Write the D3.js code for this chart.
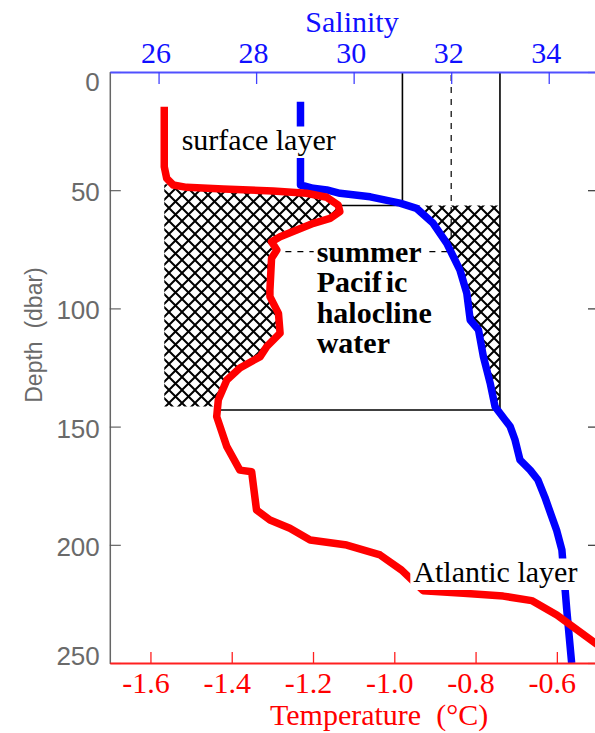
<!DOCTYPE html>
<html>
<head>
<meta charset="utf-8">
<title>Temperature and salinity profile</title>
<script src="https://cdn.jsdelivr.net/npm/d3@7/dist/d3.min.js"></script>
<style>
  html, body { margin: 0; padding: 0; background: #fff; }
  svg { display: block; }
  .serif { font-family: "Liberation Serif", "Times New Roman", Times, serif; }
  .sans { font-family: "Liberation Sans", Arial, Helvetica, sans-serif; }
</style>
</head>
<body>
<svg id="chart" width="595" height="733"></svg>
<script>
// Temperature profile: pressure (dbar) and temperature (°C)
const temperatureDepth = [14.7, 40.1, 45.0, 47.8, 48.8, 49.5, 50.3, 51.3, 53.0, 56.3, 59.1, 61.9, 64.0,
  69.7, 71.8, 75.3, 78.8, 92.2, 95.0, 102.1, 110.5, 116.2, 120.4, 125.2, 130.3, 138.7, 145.8, 158.5,
  168.4, 169.1, 185.3, 189.5, 193.0, 198.0, 200.1, 204.3, 210.7, 219.4, 220.5, 221.7, 223.6, 229.7,
  241.5, 246.0];
const temperature = [-1.566, -1.566, -1.560, -1.544, -1.511, -1.421, -1.298, -1.216, -1.166, -1.138,
  -1.134, -1.158, -1.199, -1.281, -1.302, -1.289, -1.302, -1.306, -1.306, -1.285, -1.281, -1.314,
  -1.330, -1.380, -1.412, -1.433, -1.437, -1.412, -1.380, -1.351, -1.339, -1.306, -1.257, -1.207,
  -1.117, -1.035, -0.982, -0.929, -0.830, -0.732, -0.662, -0.600, -0.506, -0.470];

// Salinity profile: pressure (dbar) and practical salinity
const salinityDepth = [12.6, 47.8, 49.2, 49.9, 51.3, 52.8, 55.5, 57.7, 64.0, 72.5, 83.8, 93.6, 104.9,
  109.1, 120.4, 131.7, 141.6, 150.0, 155.7, 164.1, 168.4, 172.6, 179.8, 187.4, 193.7, 202.2, 227.6, 250.0];
const salinity = [28.91, 28.91, 29.17, 29.45, 29.72, 30.34, 30.95, 31.29, 31.63, 31.91, 32.18, 32.32,
  32.39, 32.56, 32.66, 32.80, 32.90, 33.21, 33.31, 33.41, 33.62, 33.78, 33.92, 34.05, 34.16, 34.27,
  34.37, 34.47];

// Axis ticks
const salinityTicks = [26, 28, 30, 32, 34];
const temperatureTicks = [-1.6, -1.4, -1.2, -1.0, -0.8, -0.6];
const depthTicks = [0, 50, 100, 150, 200, 250];

// Water-mass outlines (salinity / dbar)
const surfaceBoxSalinity = 31;
const surfaceBoxBase = 56.5;
const surfaceBoxLeft = 29.6;
const haloclineBoxSalinity = 33;
const haloclineBoxBase = 143;
const haloclineBoxLeft = 27.2;
const coreSalinity = 32;
const coreDepth = 76;
const coreLeft = 28.6;
const warmHatchTop = 47.5;
const warmHatchBase = 141.5;

// Annotations
const surfaceLabel = ["surface layer"];
const pacificLabel = ["summer", "Pacific", "halocline", "water"];
const atlanticLabel = ["Atlantic layer"];

const svg = d3.select("#chart");
const X0 = 109.8, X1 = 597.5, Y0 = 72, Y1 = 663;

const xSal = d3.scaleLinear().domain([25, 35]).range([X0, X1]);
const xTemp = d3.scaleLinear().domain([-1.7, -0.5]).range([X0, X1]);
const yDep = d3.scaleLinear().domain([0, 250]).range([Y0, Y1]);

const tempPts = temperatureDepth.map((d, i) => ({ d, v: temperature[i] }));
const salPts = salinityDepth.map((d, i) => ({ d, v: salinity[i] }));

// ---- definitions: cross-hatch and clips
const defs = svg.append("defs");
const hatch = defs.append("pattern").attr("id", "xhatch")
  .attr("patternUnits", "userSpaceOnUse").attr("width", 13).attr("height", 13);
hatch.append("path").attr("d", "M-2,-2L15,15M15,-2L-2,15")
  .attr("stroke", "#000").attr("stroke-width", 2).attr("fill", "none");

defs.append("clipPath").attr("id", "plotClip").append("rect")
  .attr("x", X0).attr("y", Y0).attr("width", X1 - X0).attr("height", Y1 - Y0);
defs.append("clipPath").attr("id", "warmClip").append("rect")
  .attr("x", X0).attr("y", yDep(warmHatchTop)).attr("width", X1 - X0)
  .attr("height", yDep(warmHatchBase) - yDep(warmHatchTop));
defs.append("clipPath").attr("id", "saltClip").append("rect")
  .attr("x", X0).attr("y", yDep(surfaceBoxBase)).attr("width", X1 - X0)
  .attr("height", yDep(haloclineBoxBase) - yDep(surfaceBoxBase));

// ---- hatched water masses
svg.append("path").datum(tempPts)
  .attr("clip-path", "url(#warmClip)")
  .attr("fill", "url(#xhatch)")
  .attr("d", d3.area().y(p => yDep(p.d)).x0(xTemp(temperature[0])).x1(p => xTemp(p.v)));

svg.append("path").datum(salPts)
  .attr("clip-path", "url(#saltClip)")
  .attr("fill", "url(#xhatch)")
  .attr("d", d3.area().y(p => yDep(p.d)).x0(p => xSal(p.v)).x1(xSal(haloclineBoxSalinity)));

// ---- box outlines
const outline = svg.append("g").attr("stroke", "#000").attr("stroke-width", 1.6).attr("fill", "none");
outline.append("line").attr("x1", xSal(surfaceBoxSalinity)).attr("x2", xSal(surfaceBoxSalinity))
  .attr("y1", yDep(0)).attr("y2", yDep(surfaceBoxBase));
outline.append("line").attr("x1", xSal(surfaceBoxLeft)).attr("x2", xSal(surfaceBoxSalinity))
  .attr("y1", yDep(surfaceBoxBase)).attr("y2", yDep(surfaceBoxBase));
outline.append("line").attr("x1", xSal(haloclineBoxSalinity)).attr("x2", xSal(haloclineBoxSalinity))
  .attr("y1", yDep(0)).attr("y2", yDep(haloclineBoxBase));
outline.append("line").attr("x1", xSal(haloclineBoxLeft)).attr("x2", xSal(haloclineBoxSalinity))
  .attr("y1", yDep(haloclineBoxBase)).attr("y2", yDep(haloclineBoxBase));

const dashed = svg.append("g").attr("stroke", "#000").attr("stroke-width", 1.2)
  .attr("stroke-dasharray", "6,6").attr("fill", "none");
dashed.append("line").attr("x1", xSal(coreSalinity)).attr("x2", xSal(coreSalinity))
  .attr("y1", yDep(0) + 3).attr("y2", yDep(coreDepth));
dashed.append("line").attr("x1", xSal(coreLeft)).attr("x2", xSal(coreSalinity))
  .attr("y1", yDep(coreDepth)).attr("y2", yDep(coreDepth));

// ---- profiles
const curves = svg.append("g").attr("clip-path", "url(#plotClip)")
  .attr("fill", "none").attr("stroke-linejoin", "round").attr("stroke-linecap", "butt");
curves.append("path").datum(salPts)
  .attr("stroke", "#0000ff").attr("stroke-width", 7.5)
  .attr("d", d3.line().x(p => xSal(p.v)).y(p => yDep(p.d)));
curves.append("path").datum(tempPts)
  .attr("stroke", "#ff0000").attr("stroke-width", 7.5)
  .attr("d", d3.line().x(p => xTemp(p.v)).y(p => yDep(p.d)));

// ---- annotations with white backing
function annotate(lines, x, baseline, step, bold) {
  const g = svg.append("g").attr("class", "serif");
  lines.forEach((s, i) => {
    const by = baseline + i * step;
    const t = g.append("text")
      .attr("class", "serif")
      .attr("x", x).attr("y", by)
      .style("font-size", "30px")
      .style("font-weight", bold ? "bold" : "normal")
      .attr("fill", "#000");
    if (s === "Pacific") {
      t.append("tspan").text("Pacif");
      t.append("tspan").attr("dx", 4).text("ic");
    } else {
      t.text(s);
    }
    const b = t.node().getBBox();
    g.insert("rect", function () { return t.node(); })
      .attr("x", b.x - 3).attr("y", by - 23.5)
      .attr("width", b.width + 6).attr("height", 31.5)
      .attr("fill", "#fff");
  });
}
annotate(surfaceLabel, 181.7, 150, 0, false);
annotate(pacificLabel, 316.7, 262, 30.3, true);
annotate(atlanticLabel, 413.3, 582, 0, false);

// ---- axes
// left: pressure
const gLeft = svg.append("g").attr("transform", `translate(${X0},0)`);
gLeft.call(d3.axisLeft(yDep).ticks(25).tickSizeInner(-5.5).tickSizeOuter(0).tickFormat(""));
gLeft.call(d3.axisLeft(yDep).tickValues(depthTicks).tickSizeInner(-11).tickSizeOuter(0).tickPadding(10));
gLeft.attr("font-family", null).attr("font-size", null);
gLeft.selectAll(".domain").attr("stroke", "#666").attr("stroke-width", 1.5);
gLeft.selectAll(".tick line").attr("stroke", "#555").attr("stroke-width", 1.1);
gLeft.selectAll("text")
  .attr("class", "sans").style("font-size", "26px").style("font-weight", "300")
  .attr("fill", "#6a6a6a")
  .attr("dy", d => d === 0 ? "0.7em" : d === 250 ? "0.06em" : "0.4em");

// right frame (pressure ticks only)
const gRight = svg.append("g").attr("transform", `translate(598,0)`);
gRight.call(d3.axisRight(yDep).ticks(25).tickSizeInner(-5).tickSizeOuter(0).tickFormat(""));
gRight.call(d3.axisRight(yDep).tickValues(depthTicks).tickSizeInner(-10).tickSizeOuter(0).tickFormat(""));
gRight.selectAll(".domain").attr("stroke", "#444").attr("stroke-width", 1.5);
gRight.selectAll(".tick line").attr("stroke", "#333").attr("stroke-width", 1.2);

// top: salinity
const gTop = svg.append("g").attr("transform", `translate(0,${Y0})`);
gTop.call(d3.axisTop(xSal).ticks(20).tickSizeInner(-5.5).tickSizeOuter(0).tickFormat(""));
gTop.call(d3.axisTop(xSal).tickValues(salinityTicks).tickSizeInner(-12).tickSizeOuter(0)
  .tickPadding(9).tickFormat(d3.format("d")));
gTop.attr("font-family", null).attr("font-size", null);
gTop.selectAll(".domain").attr("stroke", "#5050ff").attr("stroke-width", 1.8);
gTop.selectAll(".tick line").attr("stroke", "#4040ff").attr("stroke-width", 1.3);
gTop.selectAll("text").attr("class", "serif").style("font-size", "30px")
  .attr("fill", "#1010ff").attr("dx", -3);

svg.append("text").attr("class", "serif").attr("x", 352).attr("y", 32).attr("text-anchor", "middle")
  .style("font-size", "30px").attr("fill", "#1010ff").text("Salinity");

// bottom: temperature
const gBot = svg.append("g").attr("transform", `translate(0,${Y1})`);
gBot.call(d3.axisBottom(xTemp).ticks(24).tickSizeInner(-5.5).tickSizeOuter(0).tickFormat(""));
gBot.call(d3.axisBottom(xTemp).tickValues(temperatureTicks).tickSizeInner(-11).tickSizeOuter(0)
  .tickPadding(9).tickFormat(d => d.toFixed(1)));
gBot.attr("font-family", null).attr("font-size", null);
gBot.selectAll(".domain").attr("stroke", "#ff2020").attr("stroke-width", 1.8);
gBot.selectAll(".tick line").attr("stroke", "#ff2020").attr("stroke-width", 1.3);
gBot.selectAll("text").attr("class", "serif").style("font-size", "30px")
  .attr("fill", "#ff0000").attr("dx", -5);

svg.append("text").attr("class", "serif").attr("x", 270).attr("y", 725)
  .style("font-size", "30px").attr("fill", "#ff0000")
  .style("white-space", "pre").text("Temperature  (°C)");

svg.append("text").attr("class", "sans")
  .attr("transform", "translate(42,335) rotate(-90)")
  .attr("text-anchor", "middle")
  .style("font-size", "23px").attr("fill", "#6a6a6a")
  .style("white-space", "pre").text("Depth  (dbar)");
</script>
</body>
</html>
